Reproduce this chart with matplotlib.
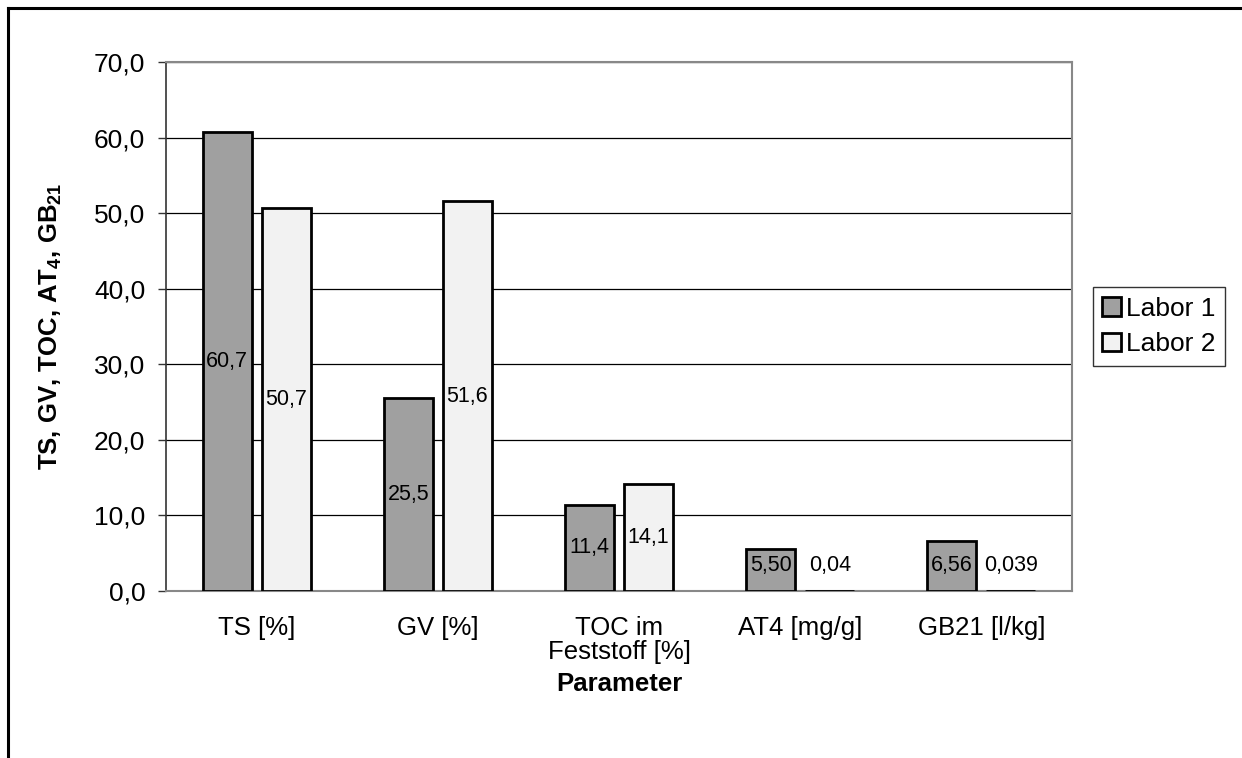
import matplotlib
matplotlib.use("Agg")
import matplotlib.pyplot as plt
from matplotlib.lines import Line2D
from matplotlib.ticker import FuncFormatter
import numpy as np

plt.rcParams['font.family'] = ['Liberation Sans', 'DejaVu Sans']
plt.rcParams['mathtext.fontset'] = 'custom'
plt.rcParams['mathtext.rm'] = 'Liberation Sans'
plt.rcParams['mathtext.bf'] = 'Liberation Sans:bold'

# data
categories = ["TS [%]", "GV [%]", "TOC im\nFeststoff [%]", "AT4 [mg/g]", "GB21 [l/kg]"]
labor1 = [60.7, 25.5, 11.4, 5.50, 6.56]
labor2 = [50.7, 51.6, 14.1, 0.04, 0.039]
labor1_txt = ["60,7", "25,5", "11,4", "5,50", "6,56"]
labor2_txt = ["50,7", "51,6", "14,1", "0,04", "0,039"]
series_names = ["Labor 1", "Labor 2"]

W, H = 1242, 758
fig = plt.figure(figsize=(W / 100, H / 100), dpi=100)
ax = fig.add_axes([166 / W, 1 - 591 / H, (1072 - 166) / W, (591 - 62) / H])

x = np.arange(len(categories))
bw = 0.27
off = 0.163
ax.bar(x - off, labor1, bw, color="#a0a0a0", edgecolor="black", linewidth=2.0,
       label=series_names[0], zorder=3)
ax.bar(x + off, labor2, bw, color="#f2f2f2", edgecolor="black", linewidth=2.0,
       label=series_names[1], zorder=3)

# value labels centred in the bars (Excel keeps tiny ones a bit above the axis)
for xs, vals, txts in [(x - off, labor1, labor1_txt), (x + off, labor2, labor2_txt)]:
    for xi, v, t in zip(xs, vals, txts):
        ax.text(xi, max(v / 2, 3.4), t, ha="center", va="center", fontsize=15.5, zorder=4)

ax.set_xlim(-0.5, len(categories) - 0.5)
ax.set_ylim(0, 70)
ax.set_yticks(np.arange(0, 71, 10))
ax.yaxis.set_major_formatter(FuncFormatter(lambda v, p: f"{v:.1f}".replace(".", ",")))
ax.set_xticks(x)
ax.set_xticklabels(categories, fontsize=18.5, linespacing=1.0)
ax.tick_params(axis="x", length=0, pad=18)
ax.tick_params(axis="y", labelsize=19, length=6, width=1, pad=9, color="#333333")
ax.yaxis.grid(True, color="black", linewidth=0.9, zorder=0)
ax.set_axisbelow(True)

for s in ["top", "right", "bottom"]:
    ax.spines[s].set_color("#888888")
    ax.spines[s].set_linewidth(1.5)
ax.spines["left"].set_color("#333333")
ax.spines["left"].set_linewidth(1.2)

ax.set_xlabel("Parameter", fontsize=18.5, fontweight="bold", labelpad=6)
ax.set_ylabel(r"TS, GV, TOC, AT$_{\mathbf{4}}$, GB$_{\mathbf{21}}$", fontsize=18.5,
              fontweight="bold")
ax.yaxis.set_label_coords((64 - 166) / (1072 - 166), 0.5)

leg = ax.legend(loc="center left", bbox_to_anchor=(1 + 21 / 906, 0.5), fontsize=19,
                frameon=True, fancybox=False, edgecolor="black", handlelength=0.7,
                handleheight=0.7, handletextpad=0.2, borderpad=0.35, labelspacing=0.45,
                borderaxespad=0)
leg.get_frame().set_linewidth(1.0)

# outer chart border (left and top visible)
fig.add_artist(Line2D([8 / W, 8 / W], [0, 1 - 8 / H], color="black", linewidth=2.2))
fig.add_artist(Line2D([8 / W, 1], [1 - 8 / H, 1 - 8 / H], color="black", linewidth=2.2))

fig.savefig("out.png", dpi=100)
